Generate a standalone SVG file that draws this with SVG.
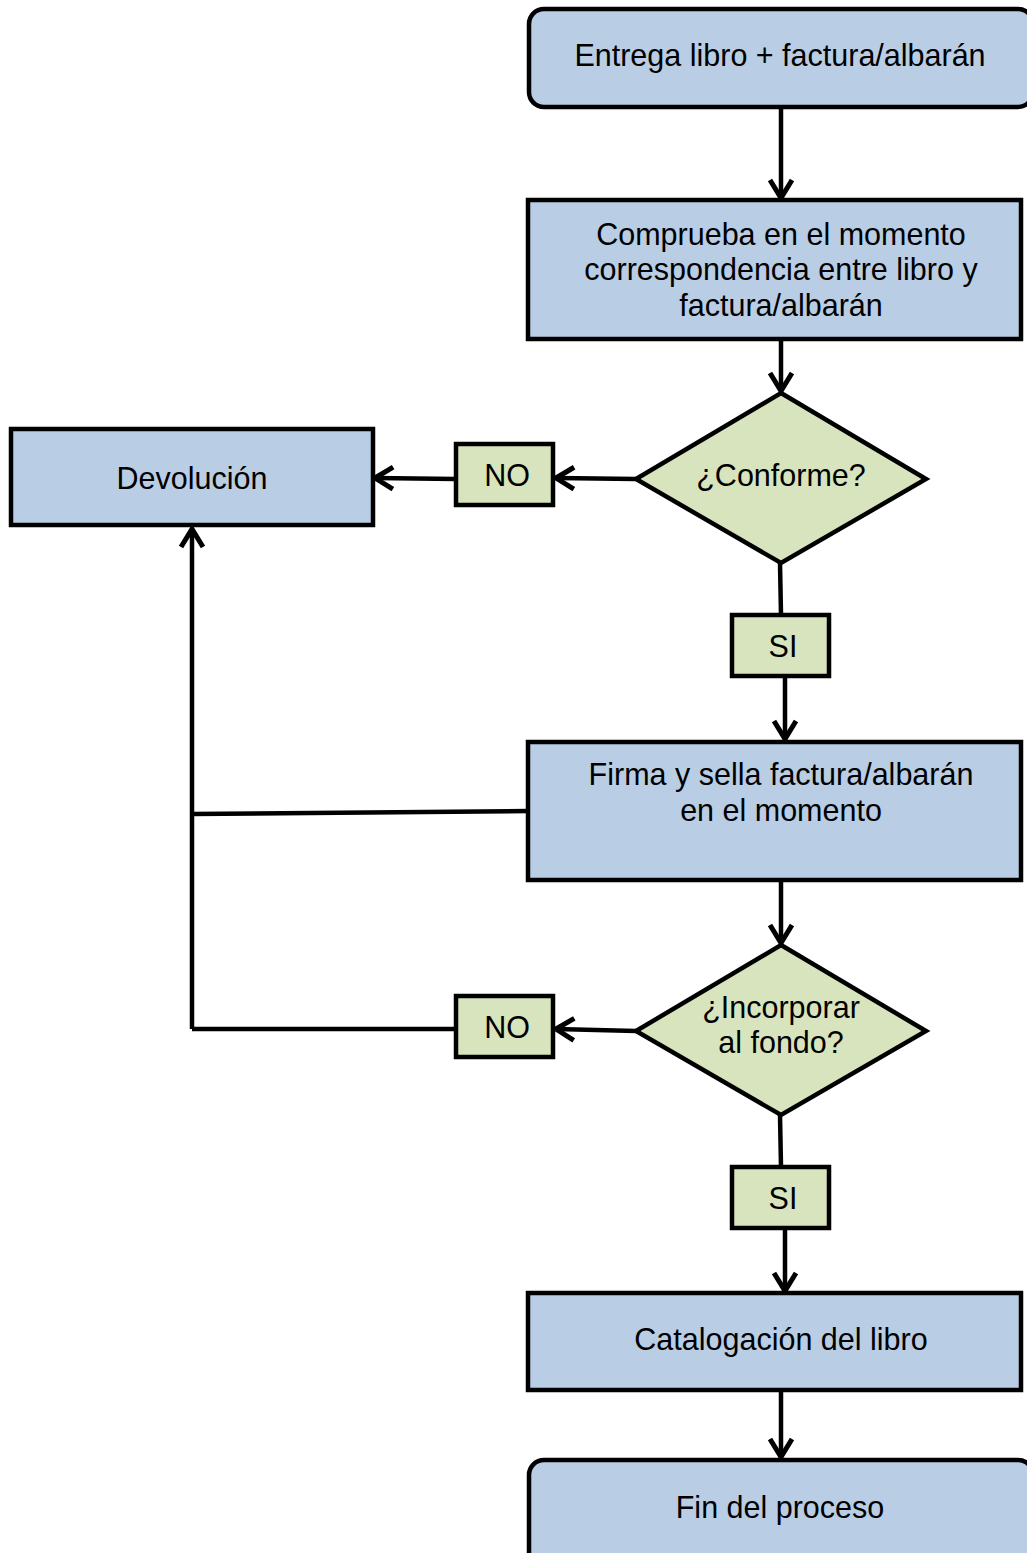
<svg xmlns="http://www.w3.org/2000/svg" width="1027" height="1553" viewBox="0 0 1027 1553">
  <style>
    .proc { fill: #B9CDE5; stroke: #000; stroke-width: 4.5; }
    .dec { fill: #D7E4BD; stroke: #000; stroke-width: 4.5; stroke-linejoin: miter; }
    .lbl { fill: #D7E4BD; stroke: #000; stroke-width: 4.5; }
    text { font-family: "Liberation Sans", Arial, sans-serif; font-size: 30.5px; fill: #000; text-anchor: middle; }
    .wire { fill: none; stroke: #000; stroke-width: 4.5; }
    .arrow { marker-end: url(#head); }
  </style>
  <defs>
    <!-- open chevron arrowhead -->
    <marker id="head" viewBox="0 0 24 28" refX="21" refY="14" markerWidth="24" markerHeight="28" markerUnits="userSpaceOnUse" orient="auto">
      <path d="M3,3 L21,14 L3,25" fill="none" stroke="#000" stroke-width="5" stroke-linejoin="miter"/>
    </marker>
  </defs>

  <rect width="1027" height="1553" fill="#fff"/>

  <!-- connectors -->
  <g id="connectors">
    <path class="wire arrow" d="M781,107 L781,198"/>
    <path class="wire arrow" d="M781,339 L781,391"/>
    <path class="wire arrow" d="M636,479 L556,478"/>
    <path class="wire arrow" d="M456,479 L375,478"/>
    <path class="wire" d="M780,563 L781,615"/>
    <path class="wire arrow" d="M785,676 L785,739"/>
    <path class="wire" d="M528,811 L192,814"/>
    <path class="wire arrow" d="M192,1029 L192,529"/>
    <path class="wire" d="M456,1029 L192,1029"/>
    <path class="wire arrow" d="M781,880 L781,943"/>
    <path class="wire arrow" d="M636,1031 L556,1029"/>
    <path class="wire" d="M780,1115 L781,1167"/>
    <path class="wire arrow" d="M785,1228 L785,1291"/>
    <path class="wire arrow" d="M781,1390 L781,1457"/>
  </g>

  <g id="inicio">
    <rect class="proc" x="529" y="9" width="504" height="98" rx="15"/>
    <text x="780" y="66">Entrega libro + factura/albarán</text>
  </g>

  <g id="comprueba">
    <rect class="proc" x="528" y="200" width="493" height="139"/>
    <text x="781" y="245">Comprueba en el momento</text>
    <text x="781" y="280">correspondencia entre libro y</text>
    <text x="781" y="316">factura/albarán</text>
  </g>

  <g id="conforme">
    <polygon class="dec" points="781,393 926,479 781,563 636,479"/>
    <text x="781" y="486">¿Conforme?</text>
  </g>

  <g id="no1">
    <rect class="lbl" x="456" y="444" width="97" height="61"/>
    <text x="507" y="486">NO</text>
  </g>

  <g id="devolucion">
    <rect class="proc" x="11" y="429" width="362" height="96"/>
    <text x="192" y="489">Devolución</text>
  </g>

  <g id="si1">
    <rect class="lbl" x="732" y="615" width="97" height="61"/>
    <text x="783" y="657">SI</text>
  </g>

  <g id="firma">
    <rect class="proc" x="528" y="742" width="493" height="138"/>
    <text x="781" y="785">Firma y sella factura/albarán</text>
    <text x="781" y="821">en el momento</text>
  </g>

  <g id="incorporar">
    <polygon class="dec" points="781,945 926,1031 781,1115 636,1031"/>
    <text x="781" y="1018">¿Incorporar</text>
    <text x="781" y="1053">al fondo?</text>
  </g>

  <g id="no2">
    <rect class="lbl" x="456" y="996" width="97" height="61"/>
    <text x="507" y="1038">NO</text>
  </g>

  <g id="si2">
    <rect class="lbl" x="732" y="1167" width="97" height="61"/>
    <text x="783" y="1209">SI</text>
  </g>

  <g id="catalogacion">
    <rect class="proc" x="528" y="1293" width="493" height="97"/>
    <text x="781" y="1350">Catalogación del libro</text>
  </g>

  <g id="fin">
    <rect class="proc" x="529" y="1460" width="504" height="110" rx="15"/>
    <text x="780" y="1518">Fin del proceso</text>
  </g>
</svg>
